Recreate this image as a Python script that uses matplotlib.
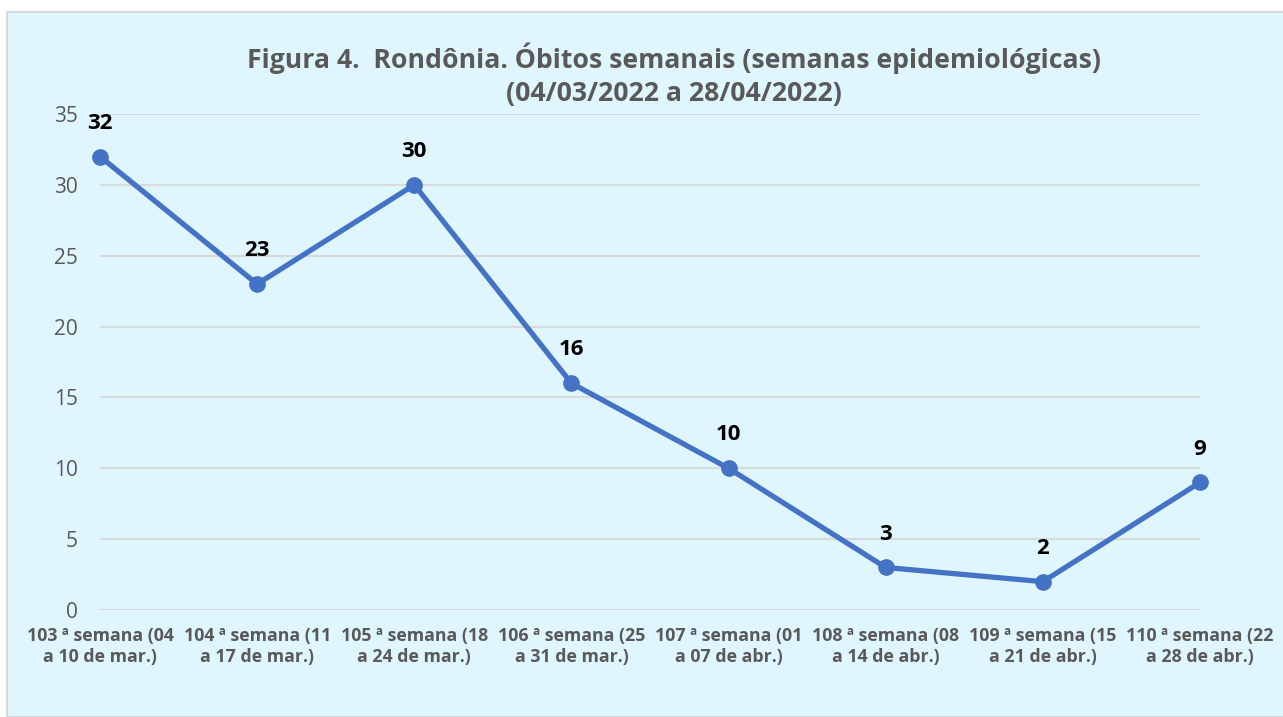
import matplotlib.pyplot as plt
from matplotlib.patches import Rectangle

semanas = ['103 ª semana (04\na 10 de mar.)', '104 ª semana (11\na 17 de mar.)',
           '105 ª semana (18\na 24 de mar.)', '106 ª semana (25\na 31 de mar.)',
           '107 ª semana (01\na 07 de abr.)', '108 ª semana (08\na 14 de abr.)',
           '109 ª semana (15\na 21 de abr.)', '110 ª semana (22\na 28 de abr.)']
obitos = [32, 23, 30, 16, 10, 3, 2, 9]

plt.rcParams['font.family'] = ['Open Sans', 'DejaVu Sans']

fig = plt.figure(figsize=(12.83, 7.17), dpi=100)
fig.patch.set_facecolor('white')
# fundo do grafico
fig.patches.append(Rectangle((7 / 1283, 0), 1.0, 1 - 12 / 717, transform=fig.transFigure,
                             facecolor='#DFF6FE', edgecolor='#D9D9D9', linewidth=1.5, zorder=-5))

ax = fig.add_axes([100 / 1283, 1 - 610 / 717, 1100 / 1283, (610 - 114) / 717])
ax.set_facecolor('none')

x = list(range(len(obitos)))
ax.plot(x, obitos, color='#4472C4', linewidth=3.8, marker='o', markersize=11, zorder=3,
        clip_on=False)
for xi, v in zip(x, obitos):
    ax.annotate(str(v), (xi, v), xytext=(0, 24), textcoords='offset points',
                ha='center', va='center', fontsize=16, fontweight='bold', color='black')

ax.set_xlim(0, 7)
ax.set_ylim(0, 35)
ax.set_yticks(range(0, 36, 5))
ax.yaxis.grid(True, color='#D9D9D9', linewidth=1.5)
ax.set_axisbelow(True)
ax.set_xticks(x)
ax.set_xticklabels(semanas, fontsize=12.8, fontweight='bold', color='#595959', linespacing=1.25)
for s in ax.spines.values():
    s.set_visible(False)
ax.tick_params(axis='both', length=0)
ax.tick_params(axis='y', labelsize=15, labelcolor='#595959', pad=16)
ax.tick_params(axis='x', pad=12)

fig.text(674 / 1283, 1 - 75 / 717,
         'Figura 4.  Rondônia. Óbitos semanais (semanas epidemiológicas)\n(04/03/2022 a 28/04/2022)',
         ha='center', va='center', fontsize=19.2, fontweight='bold', color='#595959',
         linespacing=1.35)

fig.savefig('out.png', dpi=100)
